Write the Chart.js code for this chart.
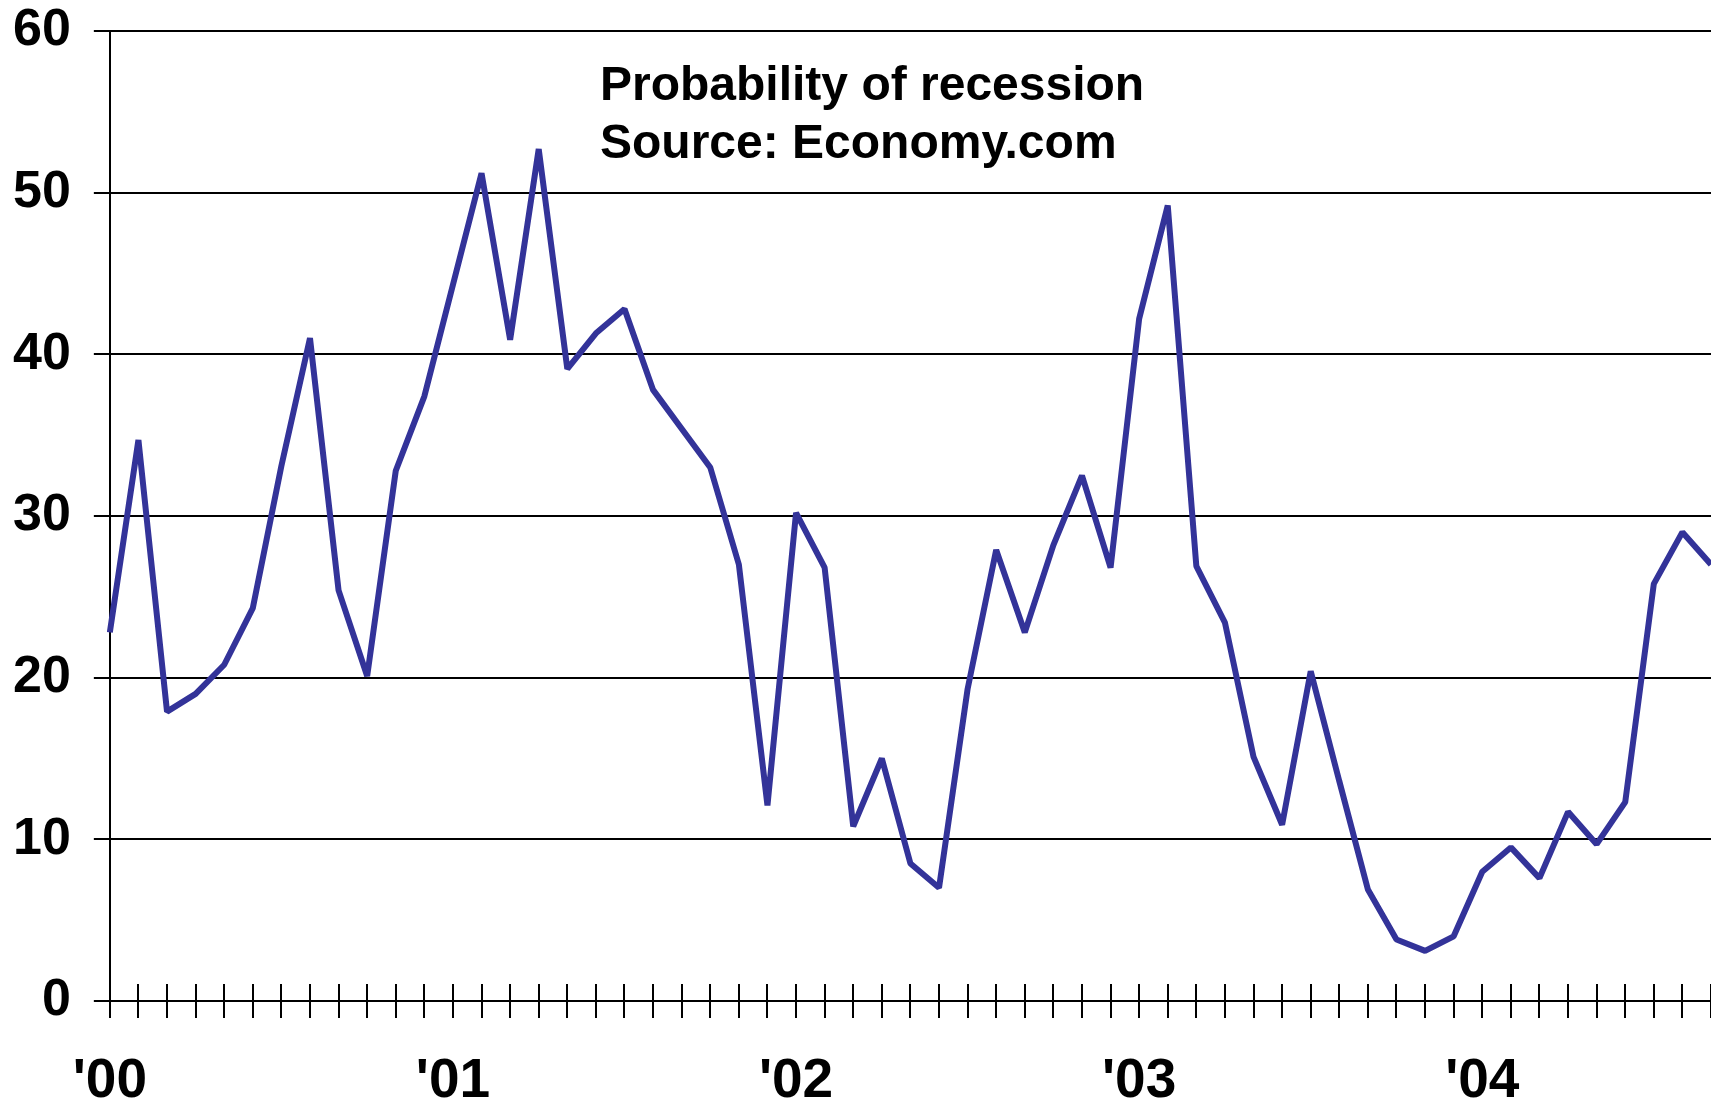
<!DOCTYPE html>
<html>
<head>
<meta charset="utf-8">
<script src="https://cdn.jsdelivr.net/npm/chart.js@4.4.0/dist/chart.umd.min.js"></script>
<style>
    html, body { margin: 0; padding: 0; background: #fff; overflow: hidden; }
    /* canvas is a bit wider than the window: the plot runs off the right edge like the original */
    #wrap { position: relative; width: 1747px; height: 1104px; }
    #note {
        position: absolute; left: 600px; top: 55px;
        font: bold 48px/58px "Liberation Sans", Arial, sans-serif; color: #000;
    }
</style>
</head>
<body>
<div id="wrap">
    <canvas id="myChart" width="1747" height="1104"></canvas>
    <div id="note">Probability of recession<br>Source: Economy.com</div>
</div>
<script>
// monthly probability of recession, Jan 2000 - Sep 2004
const years = ["'00", "'01", "'02", "'03", "'04"];
const monthNames = ['Jan', 'Feb', 'Mar', 'Apr', 'May', 'Jun', 'Jul', 'Aug', 'Sep', 'Oct', 'Nov', 'Dec'];
const recessionProb = [
    22.8, 34.7, 17.9, 19.0, 20.8, 24.3, 33.1, 41.0, 25.4, 20.1, 32.8, 37.4,
    44.3, 51.2, 40.9, 52.7, 39.1, 41.3, 42.8, 37.8, 35.4, 33.0, 27.0, 12.1,
    30.2, 26.8, 10.8, 15.0, 8.5, 7.0, 19.3, 27.9, 22.8, 28.2, 32.5, 26.8,
    42.2, 49.2, 26.9, 23.4, 15.1, 10.9, 20.4, 13.6, 6.9, 3.8, 3.1, 4.0,
    8.0, 9.5, 7.6, 11.7, 9.7, 12.3, 25.8, 29.0, 27.0
];
const yTicks = [0, 10, 20, 30, 40, 50, 60];

const labels = recessionProb.map((v, i) => monthNames[i % 12] + ' ' + years[Math.floor(i / 12)]);

// tick marks above the x axis (the library only draws them below)
const upperTicks = {
    id: 'upperTicks',
    afterDraw(chart) {
        const xs = chart.scales.x;
        const y0 = chart.scales.y.getPixelForValue(0);
        const c = chart.ctx;
        c.save();
        c.strokeStyle = '#000';
        c.lineWidth = 2;
        c.beginPath();
        xs.ticks.forEach((t, i) => {
            const px = Math.round(xs.getPixelForTick(i));
            c.moveTo(px, y0 - 17);
            c.lineTo(px, y0);
        });
        c.stroke();
        c.restore();
    }
};

const font = (size, lh) => ({ family: '"Liberation Sans", Arial, sans-serif', weight: 'bold', size: size, lineHeight: lh });

const ctx = document.getElementById('myChart').getContext('2d');
new Chart(ctx, {
    type: 'line',
    data: {
        labels: labels,
        datasets: [{
            label: 'Probability of recession',
            data: recessionProb,
            borderColor: '#333399',
            borderWidth: 6,
            borderJoinStyle: 'bevel',
            pointRadius: 0,
            tension: 0,
            fill: false
        }]
    },
    options: {
        responsive: false,
        animation: false,
        layout: { padding: { left: -10, top: 31, right: 0, bottom: -41 } },
        plugins: {
            legend: { display: false },
            tooltip: { enabled: false }
        },
        scales: {
            x: {
                offset: false,
                grid: { drawOnChartArea: false, drawTicks: true, tickLength: 17, color: '#000', lineWidth: 2 },
                border: { display: true, color: '#000', width: 2 },
                ticks: {
                    autoSkip: false,
                    maxRotation: 0,
                    padding: 36,
                    color: '#000',
                    font: font(55, 1),
                    callback: (v, i) => (i % 12 === 0 ? years[i / 12] : '')
                }
            },
            y: {
                min: yTicks[0],
                max: yTicks[yTicks.length - 1],
                afterBuildTicks: (scale) => { scale.ticks = yTicks.map(v => ({ value: v })); },
                grid: { color: '#000', lineWidth: 2, tickLength: 16 },
                border: { display: true, color: '#000', width: 2 },
                ticks: { padding: 23, color: '#000', font: font(52, 0.2) }
            }
        }
    },
    plugins: [upperTicks]
});
</script>
</body>
</html>
